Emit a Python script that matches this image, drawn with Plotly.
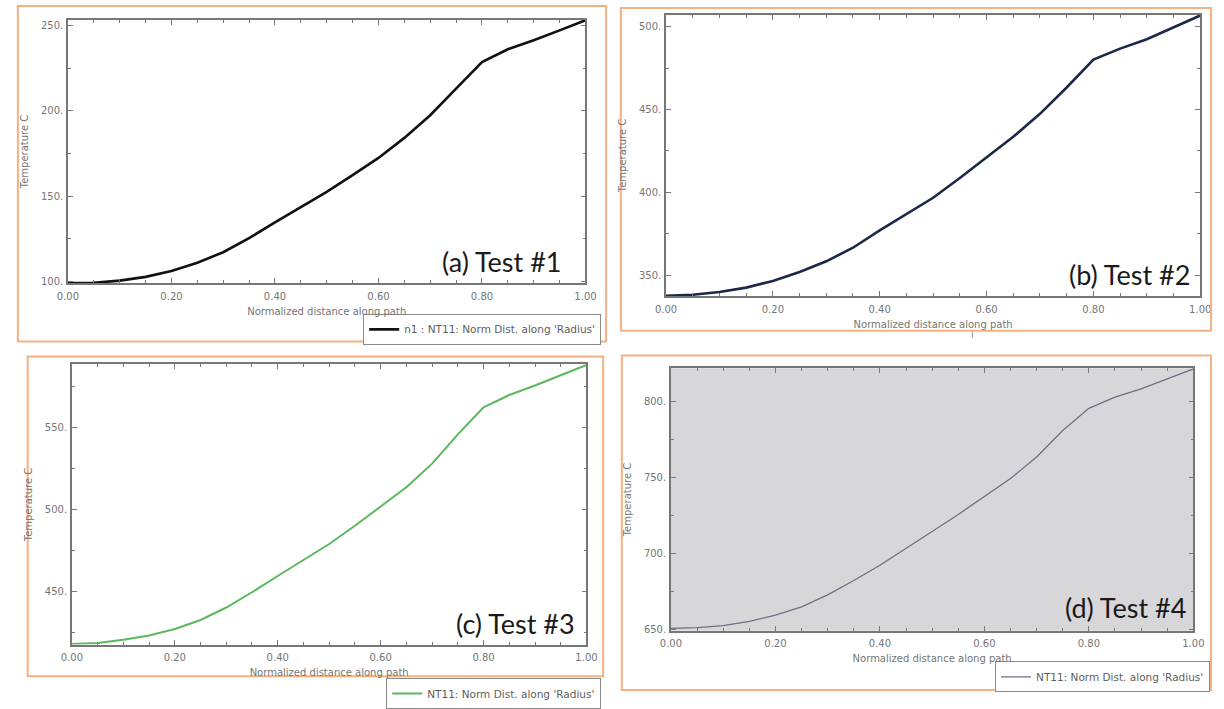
import plotly.graph_objects as go

# Normalized path position (nodes along 'Radius')
distance = [0.00, 0.05, 0.10, 0.15, 0.20, 0.25, 0.30, 0.35, 0.40, 0.45, 0.50,
            0.55, 0.60, 0.65, 0.70, 0.75, 0.80, 0.85, 0.90, 0.95, 1.00]

# Nodal temperature NT11 (deg C) for each test
temp_test1 = [98.8, 99.0, 100.3, 102.5, 105.9, 110.8, 117.0, 125.3, 134.5, 143.3, 152.5,
              162.3, 172.4, 184.2, 197.5, 213.2, 228.8, 236.3, 241.6, 247.4, 253.3]
temp_test2 = [337.5, 338.1, 339.7, 342.4, 346.4, 351.8, 358.3, 366.5, 377.0, 386.8, 396.7,
              408.6, 421.0, 433.5, 447.4, 463.3, 480.2, 486.8, 492.5, 499.5, 506.8]
temp_test3 = [418.3, 418.9, 420.8, 423.4, 427.4, 432.9, 440.5, 449.8, 459.7, 469.3, 479.2,
              490.3, 502.0, 513.8, 528.2, 546.0, 562.5, 570.0, 575.8, 582.0, 588.3]
temp_test4 = [650.4, 650.9, 652.2, 655.0, 659.2, 664.6, 672.5, 682.0, 692.1, 703.0, 714.4,
              725.6, 737.3, 749.3, 763.5, 781.0, 795.6, 803.0, 808.5, 815.0, 821.6]

panel_labels = ["(a) Test #1", "(b) Test #2", "(c) Test #3", "(d) Test #4"]
series_names = ["n1 : NT11: Norm Dist. along 'Radius'", "NT11: Norm Dist. along 'Radius'",
                "NT11: Norm Dist. along 'Radius'", "NT11: Norm Dist. along 'Radius'"]
x_title = "Normalized distance along path"
y_title = "Temperature C"

W, H = 1224, 709


def fx(px):
    return px / W


def fy(py):
    return 1 - py / H


# Layout of each panel in pixels: frame box, plot area, y-range, label box, legend
panels = [
    dict(temps=temp_test1, color="#111111", width=2.6, frame=(7, 6, 606, 345),
         plot=(58, 20, 585, 286), yrange=(98.8, 253.6), label=(437, 264),
         legend=(601, 317), showlegend=True),
    dict(temps=temp_test2, color="#1b2848", width=2.6, frame=(621, 8, 1222, 334),
         plot=(667, 15, 1211, 299), yrange=(337.3, 507.2), label=(1075, 277),
         legend=None, showlegend=False),
    dict(temps=temp_test3, color="#5cb85c", width=2.0, frame=(17, 360, 603, 683),
         plot=(62, 368, 586, 651), yrange=(417.9, 588.7), label=(451, 630),
         legend=(601, 685), showlegend=True),
    dict(temps=temp_test4, color="#6f6f84", width=1.3, frame=(622, 359, 1222, 697),
         plot=(672, 372, 1204, 637), yrange=(648.9, 822.0), label=(1071, 614),
         legend=(1221, 668), showlegend=True),
]

axis_color = "#777777"
tick_font = dict(family="DejaVu Sans", size=10, color="#757575")
title_font = dict(family="DejaVu Sans", size=10, color="#757575")
frame_color = "#F4B183"

fig = go.Figure()
layout = dict(width=W, height=H, margin=dict(l=0, r=0, t=0, b=0),
              paper_bgcolor="white", plot_bgcolor="white", showlegend=True)
shapes = []
annotations = []
legend_ids = ["legend", "legend2", "legend3"]
li = 0

for i, p in enumerate(panels, start=1):
    sfx = "" if i == 1 else str(i)
    xl, yt, xr, yb = p["plot"]
    leg_id = None
    if p["showlegend"]:
        leg_id = legend_ids[li]
        li += 1
    trace = dict(x=distance, y=p["temps"], mode="lines",
                 line=dict(color=p["color"], width=p["width"]),
                 name=series_names[i - 1], xaxis="x" + sfx, yaxis="y" + sfx,
                 showlegend=p["showlegend"], hoverinfo="x+y")
    if leg_id:
        trace["legend"] = leg_id
    fig.add_trace(go.Scatter(**trace))

    layout["xaxis" + sfx] = dict(
        domain=[fx(xl), fx(xr)], range=[0, 1], anchor="y" + sfx,
        tick0=0, dtick=0.2, tickformat=".2f", ticks="inside", ticklen=5,
        tickcolor=axis_color, showline=True, linecolor=axis_color, linewidth=1.5,
        mirror="ticks", showgrid=False, zeroline=False, tickfont=tick_font,
        ticklabelstandoff=3,
        minor=dict(dtick=0.05, tick0=0, ticks="inside", ticklen=3,
                   tickcolor=axis_color, showgrid=False),
        title=dict(text=x_title, font=title_font, standoff=7))
    layout["yaxis" + sfx] = dict(
        domain=[fy(yb), fy(yt)], range=list(p["yrange"]), anchor="x" + sfx,
        tick0=0, dtick=50, tickformat="d", ticksuffix=".", ticks="inside",
        ticklen=5, tickcolor=axis_color, showline=True, linecolor=axis_color,
        linewidth=1.5, mirror="ticks", showgrid=False, zeroline=False,
        tickfont=tick_font, ticklabelstandoff=1,
        minor=dict(dtick=25, tick0=0, ticks="inside", ticklen=3,
                   tickcolor=axis_color, showgrid=False),
        title=dict(text=y_title, font=title_font, standoff=10))

    if i == 4:
        shapes.append(dict(type="rect", xref="x4 domain", yref="y4 domain",
                           x0=0, x1=1, y0=0, y1=1, fillcolor="#d7d7d9",
                           line=dict(width=0), layer="below"))

    fx0, fy0, fx1, fy1 = p["frame"]
    shapes.append(dict(type="rect", xref="paper", yref="paper",
                       x0=fx(fx0), x1=fx(fx1), y0=fy(fy1), y1=fy(fy0),
                       line=dict(color=frame_color, width=2), fillcolor="rgba(0,0,0,0)"))

    lx, ly = p["label"]
    annotations.append(dict(text=panel_labels[i - 1], xref="paper", yref="paper",
                            x=fx(lx), y=fy(ly), xanchor="left", yanchor="middle",
                            showarrow=False,
                            font=dict(family="Lato", size=27, color="#1a1a1a")))

    if leg_id:
        gx, gy = p["legend"]
        layout[leg_id] = dict(x=fx(gx), xanchor="right", y=fy(gy), yanchor="top",
                              bgcolor="white", bordercolor="#8a8a8a", borderwidth=1,
                              font=dict(family="DejaVu Sans", size=10.5, color="#606060"),
                              itemwidth=30, tracegroupgap=0)

# small tick mark below panel (b)
shapes.append(dict(type="line", xref="paper", yref="paper",
                   x0=fx(979), x1=fx(979), y0=fy(341), y1=fy(335),
                   line=dict(color="#999999", width=1)))

layout["shapes"] = shapes
layout["annotations"] = annotations
fig.update_layout(**layout)

fig.write_html("out.html")
